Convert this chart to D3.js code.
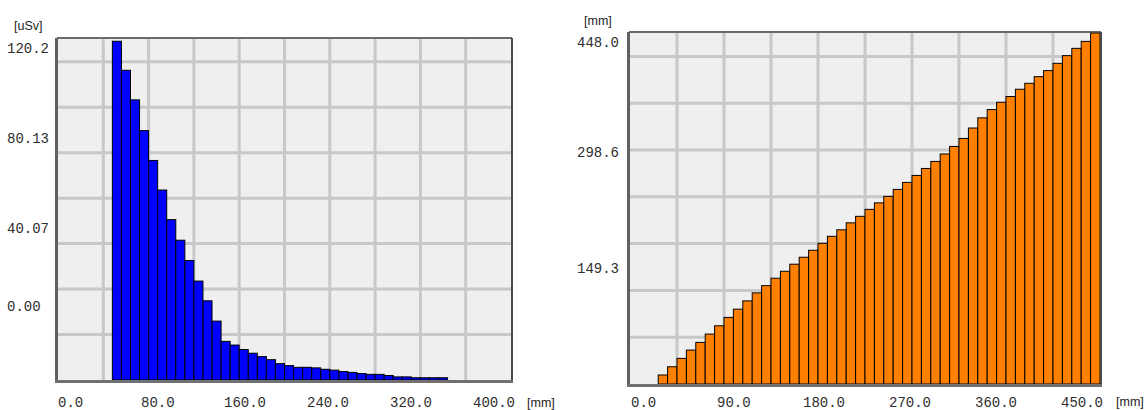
<!DOCTYPE html>
<html>
<head>
<meta charset="utf-8">
<script src="https://cdn.jsdelivr.net/npm/d3@7"></script>
<style>
body{margin:0;background:#fff;}
svg{display:block;}
.tick{font-family:"Liberation Mono",monospace;font-size:14px;fill:#2e2e2e;}
.unit{font-family:"Liberation Sans",Arial,sans-serif;font-size:12.5px;fill:#222;}
</style>
</head>
<body>
<svg id="chart" width="1146" height="410"></svg>
<script>
var binCount = 50;//每个图的格子数
var bins = d3.range(binCount);

// 左图: 剂量 [uSv]
var doseValues = [0,0,0,0,0,0,
  120.2,109.9,99.4,88.5,77.9,67.4,56.9,49.6,42.4,35.1,28.1,20.9,13.7,12.4,10.8,9.5,8.3,7.2,5.8,5.1,
  4.5,4.5,4.3,3.8,3.5,3.0,2.7,2.3,2.0,2.0,1.6,1.1,1.1,0.8,0.8,0.8,0.8];
var doseYTicks = ["120.2","80.13","40.07","0.00"];
var doseXTicks = [0,80,160,240,320,400];

// 右图: 深度 [mm]
var depthValues = [0,0,0,
  11.5,22.0,32.7,43.3,53.1,63.7,74.3,85.0,95.5,106.1,116.3,125.5,135.0,143.9,152.9,161.8,170.7,179.6,
  188.5,196.8,205.7,214.0,222.9,231.2,239.5,248.4,257.3,266.2,275.1,284.1,293.6,303.2,313.4,326.7,
  339.7,350.3,359.6,366.9,376.2,383.8,392.3,400.0,409.3,419.1,428.4,437.3,448.0];
var depthYTicks = ["448.0","298.6","149.3"];
var depthXTicks = [0,90,180,270,360,450];

var svg = d3.select('#chart');

function panel(o){
  var g = svg.append('g');
  var x = d3.scaleBand().domain(bins).range([o.x0, o.x1]).padding(0);
  var y = d3.scaleLinear().domain([0, o.yMax]).range([o.y1, o.y0]);
  var gx = d3.scaleLinear().domain([0,10]).range([o.x0, o.x1]);
  var gy = d3.scaleLinear().domain([0,7.5]).range([o.y1, o.y0]);

  g.append('rect')
    .attr('x',o.x0).attr('y',o.y0)
    .attr('width',o.x1-o.x0).attr('height',o.y1-o.y0)
    .attr('fill','#efefef');

  g.selectAll('.gv').data(d3.range(1,10)).enter().append('line')
    .attr('x1',function(d){return gx(d);}).attr('x2',function(d){return gx(d);})
    .attr('y1',o.y0).attr('y2',o.y1)
    .attr('stroke','#c8c8c8').attr('stroke-width',3);
  g.selectAll('.gh').data(d3.range(1,8)).enter().append('line')
    .attr('y1',function(d){return gy(d);}).attr('y2',function(d){return gy(d);})
    .attr('x1',o.x0).attr('x2',o.x1)
    .attr('stroke','#c8c8c8').attr('stroke-width',3);

  g.selectAll('.bar').data(o.values).enter().append('rect')
    .attr('x',function(d,i){return x(i);})
    .attr('width',x.bandwidth())
    .attr('y',function(d){return y(d);})
    .attr('height',function(d){return o.y1-y(d);})
    .attr('fill',o.color)
    .attr('stroke','#000').attr('stroke-width',1);

  // 边框(左下加粗)
  g.append('line').attr('x1',o.x0-1).attr('x2',o.x1+1).attr('y1',o.y0-1).attr('y2',o.y0-1)
    .attr('stroke','#3a3a3a').attr('stroke-width',1.5);
  g.append('line').attr('x1',o.x1+1).attr('x2',o.x1+1).attr('y1',o.y0-1).attr('y2',o.y1+2)
    .attr('stroke','#4a4a4a').attr('stroke-width',2);
  g.append('line').attr('x1',o.x0-1.5).attr('x2',o.x0-1.5).attr('y1',o.y0-1).attr('y2',o.y1+3)
    .attr('stroke','#606060').attr('stroke-width',3);
  g.append('line').attr('x1',o.x0-3).attr('x2',o.x1+2).attr('y1',o.y1+1.5).attr('y2',o.y1+1.5)
    .attr('stroke','#707070').attr('stroke-width',3);

  // 刻度文字
  var tx = d3.scaleLinear().domain(d3.extent(o.xTicks)).range(o.xLabelRange);
  g.selectAll('.xt').data(o.xTicks).enter().append('text')
    .attr('class','tick')
    .attr('x',function(d){return tx(d);})
    .attr('y',o.xLabelY)
    .attr('dy','0.35em')
    .text(function(d){return d.toFixed(1);});

  var ty = d3.scaleLinear().domain(d3.range(o.yTicks.length)).range(o.yLabelRows);
  g.selectAll('.yt').data(o.yTicks).enter().append('text')
    .attr('class','tick')
    .attr('x',o.yLabelX)
    .attr('y',function(d,i){return ty(i);})
    .attr('dy','0.35em')
    .attr('text-anchor',o.yAnchor)
    .text(function(d){return d;});

  g.append('text').attr('class','unit')
    .attr('x',o.yUnit[0]).attr('y',o.yUnit[1]).attr('dy','0.35em')
    .text(o.yUnitText);
  g.append('text').attr('class','unit')
    .attr('x',o.xUnit[0]).attr('y',o.xUnit[1]).attr('dy','0.35em')
    .text('[mm]');
}

panel({
  x0:58, x1:511, y0:39, y1:380, yMax:121,
  values:doseValues, color:'#0000ff',
  xTicks:doseXTicks, xLabelRange:[58,473], xLabelY:402.5,
  yTicks:doseYTicks, yLabelRows:[48,138,228,306], yLabelX:7, yAnchor:'start',
  yUnit:[14,26], yUnitText:'[uSv]', xUnit:[527,402.5]
});

panel({
  x0:630, x1:1100, y0:33, y1:384, yMax:448,
  values:depthValues, color:'#ff8000',
  xTicks:depthXTicks, xLabelRange:[631,1061], xLabelY:402,
  yTicks:depthYTicks, yLabelRows:[42,152,268], yLabelX:619, yAnchor:'end',
  yUnit:[584,21], yUnitText:'[mm]', xUnit:[1116,402]
});
</script>
</body>
</html>
